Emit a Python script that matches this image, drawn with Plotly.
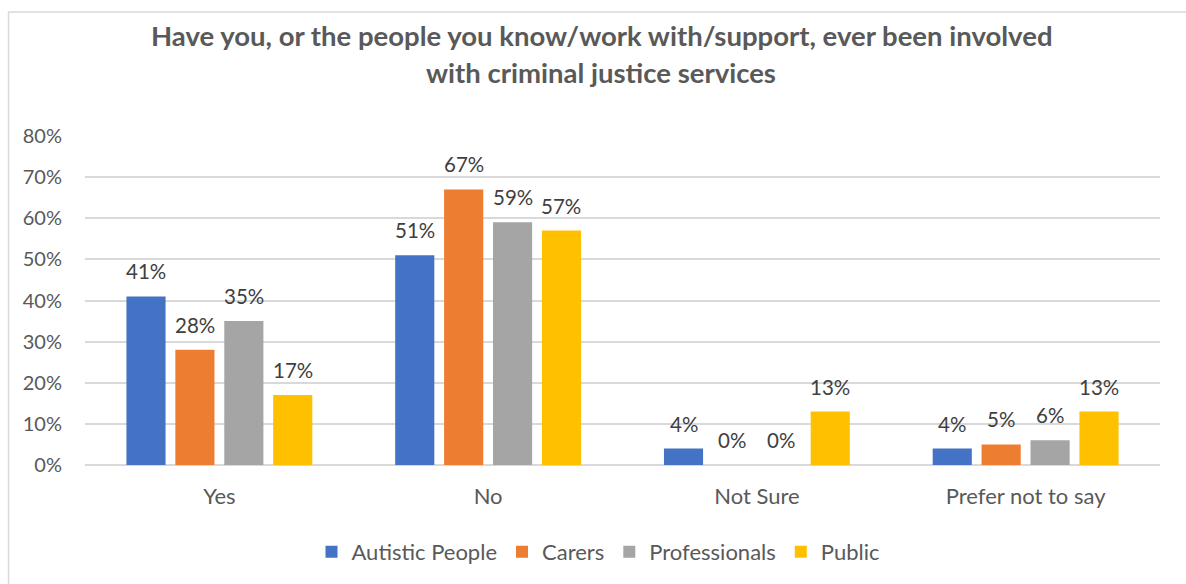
import plotly.graph_objects as go

# ── data ──────────────────────────────────────────────────────────────────────
CATEGORIES = ["Yes", "No", "Not Sure", "Prefer not to say"]
GROUPS = ["Autistic People", "Carers", "Professionals", "Public"]
AUTISTIC = [41, 51, 4, 4]
CARERS = [28, 67, 0, 5]
PROFESSIONALS = [35, 59, 0, 6]
PUBLIC = [17, 57, 13, 13]
TITLE_LINES = ["Have you, or the people you know/work with/support, ever been involved",
               "with criminal justice services"]

COLORS = ["#4472C4", "#ED7D31", "#A5A5A5", "#FFC000"]
FONT = "Lato, 'Noto Sans', Arial, sans-serif"
TXT = "#595959"
GRID = "#D9D9D9"

# plot-area geometry (px)
L, R, T, B = 85, 26, 136, 118
W, H = 1186, 584
PW, PH = W - L - R, H - T - B
BARGAP, GROUPGAP = 0.272, 0.2
SLOT = PW / len(CATEGORIES) * (1 - BARGAP) / len(GROUPS)

fig = go.Figure()
series = [AUTISTIC, CARERS, PROFESSIONALS, PUBLIC]
for i, (name, vals) in enumerate(zip(GROUPS, series)):
    fig.add_trace(go.Bar(x=CATEGORIES, y=vals, name=name, marker_color=COLORS[i],
                         marker_line_width=0, hoverinfo="skip"))
    # data labels sit well above the bar tops, as in Excel
    shift = (i - (len(GROUPS) - 1) / 2) * SLOT
    for c, v in zip(CATEGORIES, vals):
        fig.add_annotation(x=c, y=v, text=f"{v}%", showarrow=False, xshift=shift,
                           yanchor="bottom", yshift=11,
                           font=dict(family=FONT, size=20.5, color="#404040"))

def px_x(X):
    return (X - L) / PW

def px_y(Y):
    return (H - B - Y) / PH

# title (two lines, Excel-like spacing)
for text, y in zip(TITLE_LINES, [35, 72]):
    fig.add_annotation(xref="paper", yref="paper", x=px_x(601), y=px_y(y), text=f"<b>{text}</b>",
                       showarrow=False, xanchor="center", yanchor="middle",
                       font=dict(family=FONT, size=27.5, color=TXT))

# chart frame (top and left edges are visible)
fig.add_shape(type="path", xref="paper", yref="paper", layer="below",
              path=f"M {px_x(8.5)},{px_y(600)} L {px_x(8.5)},{px_y(11.5)} L {px_x(1200)},{px_y(11.5)}",
              line=dict(color=GRID, width=1.5))

fig.update_layout(
    width=W, height=H,
    margin=dict(l=L, r=R, t=T, b=B),
    paper_bgcolor="#FFFFFF", plot_bgcolor="#FFFFFF",
    barmode="group", bargap=BARGAP, bargroupgap=GROUPGAP,
    font=dict(family=FONT, size=20, color=TXT),
    showlegend=True,
    legend=dict(orientation="h", x=px_x(598), xanchor="center", y=px_y(552), yanchor="middle",
                font=dict(family=FONT, size=22, color=TXT), itemclick=False, itemdoubleclick=False),
)
fig.update_xaxes(showgrid=False, showline=False, ticks="", ticklabelstandoff=16,
                 tickfont=dict(family=FONT, size=22, color=TXT))
fig.update_yaxes(range=[0, 80], dtick=10, ticksuffix="%", showgrid=True, gridcolor=GRID,
                 gridwidth=1.5, zeroline=True, zerolinecolor=GRID, zerolinewidth=1.5,
                 showline=False, ticks="", ticklabelstandoff=22,
                 tickfont=dict(family=FONT, size=20, color=TXT))

# drop the browser's default 8px body margin so the figure sits at the window origin
fig.write_html("out.html", config={"displayModeBar": False},
               post_script="document.body.style.margin='0';")
